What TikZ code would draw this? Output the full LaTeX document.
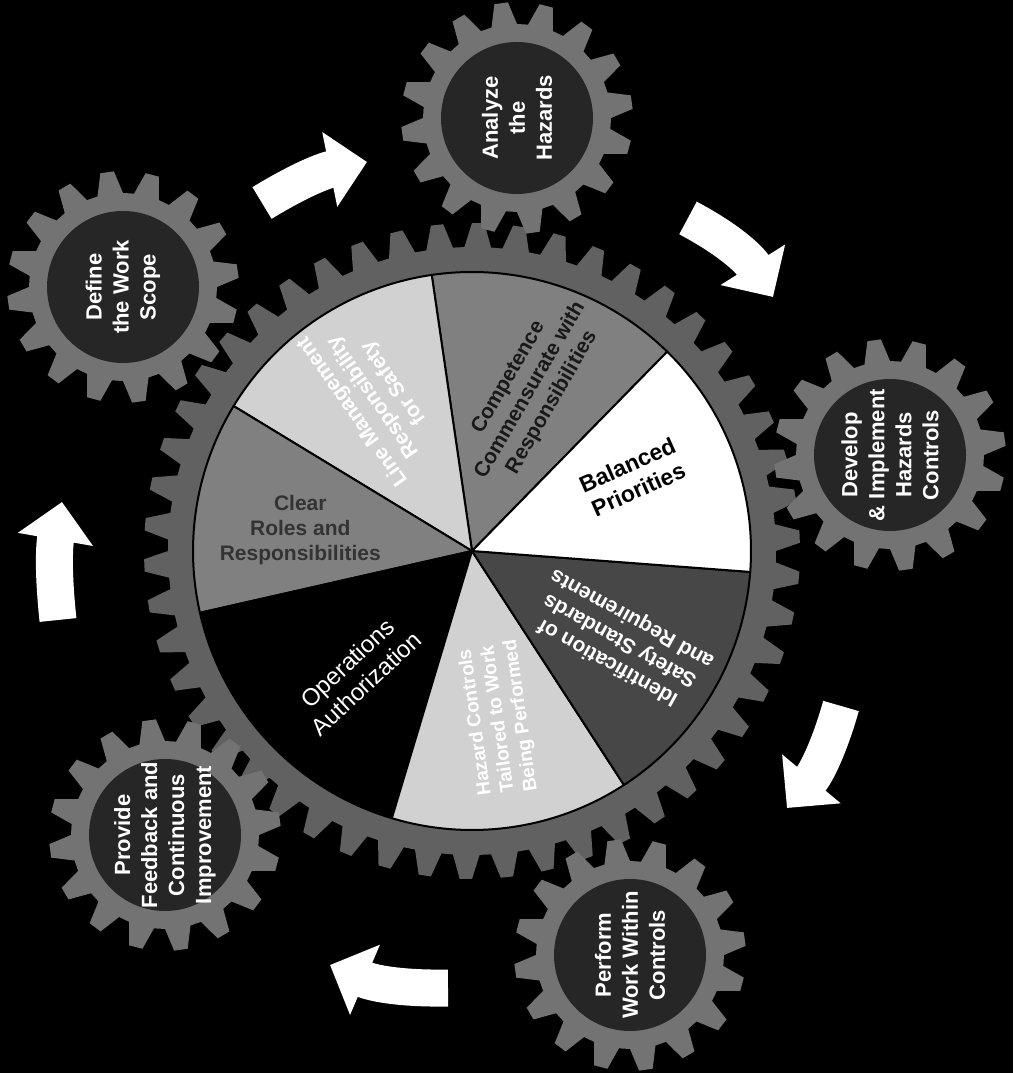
\documentclass[tikz,border=0pt]{standalone}
\usepackage{fontspec}
\setmainfont{Liberation Sans}
\usepackage{tikz}
\usetikzlibrary{arrows.meta, calc}

% gear outline: #1 centre, #2 teeth, #3 root radius, #4 tip radius, #5 colour
\newcommand{\gearwheel}[5]{%
    \fill[#5, shift={(#1)}] (0:#3)
        \foreach \t in {1,...,#2}{
            -- ({360/#2*(\t-1)+360/#2*0.2}:#4)
            -- ({360/#2*(\t-1)+360/#2*0.5}:#4)
            -- ({360/#2*(\t-1)+360/#2*0.7}:#3)
            -- ({360/#2*\t}:#3)
        } -- cycle;
}

\tikzset{
    gearlabel/.style={text=white, align=center, rotate=90,
        font=\bfseries\fontsize{22}{27}\selectfont},
    slicelabel/.style={align=center, font=\bfseries\fontsize{21}{25}\selectfont},
    pieedge/.style={draw=black, line width=2pt, line join=round},
    bigarrow/.style={white, line width=37pt,
        -{Triangle[width=74pt, length=38pt]}}
}

\begin{document}
\begin{tikzpicture}[x=1pt, y=1pt]
    \useasboundingbox (0,0) rectangle (1013,1073);
    \fill[black] (0,0) rectangle (1013,1073);

    \coordinate (hub) at (472,522);
    \coordinate (define) at (123,786);
    \coordinate (analyze) at (517,955);
    \coordinate (develop) at (890,618);
    \coordinate (perform) at (630,118);
    \coordinate (provide) at (165,238);

    % big gear behind the pie
    \gearwheel{hub}{50}{304}{328}{black!62}

    % small gears
    \foreach \g in {define, analyze, develop, perform, provide}
    {
        \gearwheel{\g}{16}{94}{116}{black!55}
        \fill[black!85] (\g) circle (76);
    }

    % pie of the seven principles
    \foreach \a/\b/\col in {
        45.6/98.3/black!50,
        98.3/148.7/black!18,
        148.7/192.8/black!50,
        192.8/253.3/black,
        253.3/303/black!18,
        303/355.7/black!72,
        355.7/405.6/white}{

        \draw[pieedge, fill=\col]
            (hub) -- ++(\a:279) arc[start angle=\a, end angle=\b, radius=279] -- cycle;
    }

    \node[slicelabel, text=black!90, rotate=60] (competence) at ($(hub)+(70:171)$)
        {Competence\\Commensurate with\\Responsibilities};
    \node[slicelabel, text=white, rotate=125] (linemgmt) at ($(hub)+(122.7:183)$)
        {Line Management\\Responsibility\\for Safety};
    \node[slicelabel, text=black!80] (roles) at ($(hub)+(173:173)$)
        {Clear\\Roles and\\Responsibilities};
    \node[slicelabel, text=white, font=\fontsize{24}{28}\selectfont, rotate=43] (opauth) at ($(hub)+(226.7:168)$)
        {Operations\\Authorization};
    \node[slicelabel, text=white, font=\bfseries\fontsize{19}{23}\selectfont, rotate=98] (hazctl) at ($(hub)+(279:170)$)
        {Hazard Controls\\Tailored to Work\\Being Performed};
    \node[slicelabel, text=white, rotate=151] (safestd) at ($(hub)+(-31:173)$)
        {Identification of\\Safety Standards\\and Requirements};
    \node[slicelabel, text=black, font=\bfseries\fontsize{23}{27}\selectfont, rotate=24] (balanced) at ($(hub)+(24.7:177)$)
        {Balanced\\Priorities};

    % gear texts
    \node[gearlabel] (definetxt) at (define) {Define\\the Work\\Scope};
    \node[gearlabel] (analyzetxt) at (analyze) {Analyze\\the\\Hazards};
    \node[gearlabel] (developtxt) at (develop) {Develop\\\& Implement\\Hazards\\Controls};
    \node[gearlabel] (performtxt) at (perform) {Perform\\Work Within\\Controls};
    \node[gearlabel] (providetxt) at (provide) {Provide\\Feedback and\\Continuous\\Improvement};

    % cycle arrows
    \coordinate (a1s) at (262,870);
    \coordinate (a1e) at (367,911);
    \coordinate (a2s) at (688,855);
    \coordinate (a2e) at (773,776);
    \coordinate (a3s) at (841,367);
    \coordinate (a3e) at (787,265);
    \coordinate (a4s) at (448,85);
    \coordinate (a4e) at (330,108);
    \coordinate (a5s) at (58,453);
    \coordinate (a5e) at (62,571);

    \draw[bigarrow] (a1s) to[bend left=10] (a1e);
    \draw[bigarrow] (a2s) to[bend left=15] (a2e);
    \draw[bigarrow] (a3s) to[bend left=12] (a3e);
    \draw[bigarrow] (a4s) to[bend left=12] (a4e);
    \draw[bigarrow] (a5s) to[bend left=8] (a5e);
\end{tikzpicture}
\end{document}
